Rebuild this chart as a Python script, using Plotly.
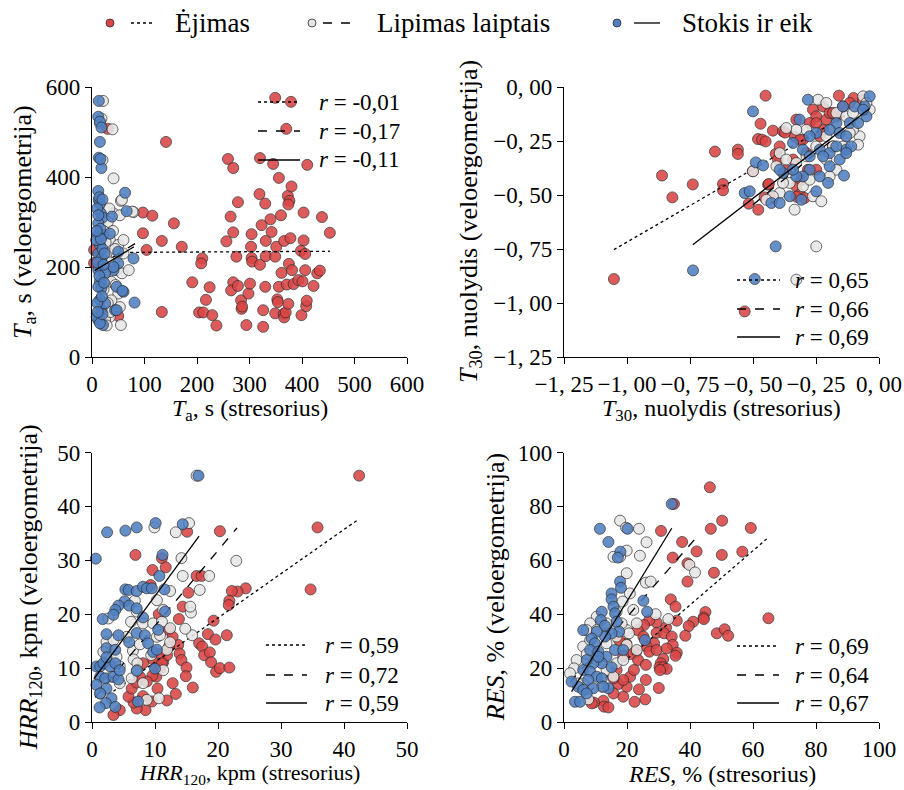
import plotly.graph_objects as go

W, H = 904, 790
FONT = "Liberation Serif, DejaVu Serif, serif"

SERIES = ["Ėjimas", "Lipimas laiptais", "Stokis ir eik"]
COLORS = ["#DA4545", "#E6E6E6", "#4F80C2"]
DASHES = ["dot", "dash", "solid"]

# ---------------- Panel 1: T_a, s ----------------
ta_walk = [
    (156, 297), (171, 245), (191, 166), (204, 99), (212, 99), (210, 219), (208, 208), (217, 127),
    (224, 155), (229, 93), (237, 70), (256, 257), (264, 312), (269, 277), (269, 166), (265, 148),
    (278, 158), (278, 344), (275, 223), (284, 126), (285, 107), (286, 112), (294, 71), (298, 141),
    (301, 163), (303, 245), (304, 220), (304, 273), (305, 212), (319, 362), (320, 205), (326, 104),
    (326, 67), (330, 156), (330, 341), (331, 258), (331, 224), (323, 293), (340, 306), (342, 278),
    (349, 223), (351, 245), (349, 97), (353, 128), (354, 122), (356, 156), (360, 315), (361, 187),
    (366, 258), (365, 96), (366, 88), (369, 99), (371, 161), (374, 118), (375, 207), (378, 264),
    (381, 193), (373, 358), (376, 347), (374, 339), (380, 379), (384, 162), (393, 171), (401, 168),
    (403, 321), (403, 259), (398, 236), (406, 229), (406, 193), (399, 93), (408, 113), (409, 125),
    (422, 158), (429, 186), (434, 192), (438, 311), (453, 276),
    (141, 478), (259, 440), (269, 420), (320, 442), (345, 429), (410, 427), (356, 398), (349, 576),
    (379, 567), (370, 507), (30, 507), (97, 321), (115, 314), (97, 275), (133, 258), (104, 238),
    (133, 100), (4, 238), (4, 209), (50, 91),
]
ta_stairs = [
    (21, 569), (18, 530), (39, 506), (20, 438), (41, 397), (55, 347), (41, 319), (53, 315),
    (79, 322), (34, 260), (50, 249), (31, 230), (47, 193), (28, 171), (37, 167), (57, 186),
    (50, 141), (37, 126), (53, 111), (34, 89), (55, 71), (25, 82), (47, 223), (70, 193),
    (60, 230), (77, 323), (57, 349), (30, 300), (25, 200), (22, 150), (30, 120), (40, 280),
    (26, 255), (35, 210), (20, 100), (44, 240), (28, 70), (33, 330), (60, 260), (45, 160),
    (22, 280), (35, 100), (15, 520),
]
ta_tug = [
    (13, 569), (12, 534), (15, 523), (18, 510), (15, 478), (13, 443), (18, 420), (16, 440),
    (12, 369), (13, 349), (15, 341), (63, 365), (17, 319), (66, 324), (10, 330), (14, 355),
    (20, 310), (12, 297), (12, 271), (15, 249), (12, 230), (18, 219), (12, 193), (15, 167),
    (18, 153), (15, 127), (18, 104), (12, 82), (21, 71), (9, 89), (50, 234), (79, 219),
    (47, 156), (60, 145), (81, 121), (44, 104), (25, 119), (21, 271), (34, 274), (50, 208),
    (41, 193), (12, 156), (25, 186), (15, 75), (38, 312), (58, 147), (47, 104), (41, 200),
    (10, 210), (20, 240), (8, 260), (16, 285), (22, 205), (10, 120), (20, 95), (14, 180),
    (19, 135), (11, 100), (23, 165), (17, 262), (9, 280), (20, 350), (12, 315), (24, 230),
]
ta_fit_x = [[4, 453], [10, 82], [5, 80]]
ta_fit_y = [[232, 235], [200, 252], [192, 245]]
ta_r = ["-0,01", "-0,17", "-0,11"]

# ---------------- Panel 2: T30, slope ----------------
t30_walk = [
    (-1.052, -0.889), (-0.861, -0.410), (-0.820, -0.511), (-0.739, -0.451), (-0.651, -0.299),
    (-0.560, -0.290), (-0.560, -0.310), (-0.619, -0.449), (-0.619, -0.478), (-0.517, -0.540),
    (-0.479, -0.568), (-0.501, -0.390), (-0.480, -0.241), (-0.464, -0.244), (-0.450, -0.252),
    (-0.470, -0.170), (-0.421, -0.202), (-0.450, -0.040), (-0.440, -0.452), (-0.454, -0.511),
    (-0.410, -0.310), (-0.401, -0.336), (-0.381, -0.205), (-0.328, -0.151), (-0.335, -0.228),
    (-0.302, -0.244), (-0.328, -0.460), (-0.315, -0.498), (-0.295, -0.514), (-0.308, -0.429),
    (-0.262, -0.105), (-0.249, -0.136), (-0.222, -0.090), (-0.209, -0.151), (-0.196, -0.120),
    (-0.159, -0.040), (-0.143, -0.090), (-0.101, -0.051), (-0.275, -0.167), (-0.235, -0.228),
    (-0.183, -0.275), (-0.288, -0.306), (-0.249, -0.383), (-0.282, -0.383), (-0.533, -1.039),
    (-0.341, -0.336), (-0.222, -0.198), (-0.116, -0.074), (-0.063, -0.059), (-0.368, -0.383),
    (-0.169, -0.136), (-0.394, -0.275), (-0.249, -0.167), (-0.373, -0.211), (-0.313, -0.245),
    (-0.183, -0.120), (-0.437, -0.449), (-0.327, -0.508), (-0.420, -0.514),
]
t30_stairs = [
    (-0.242, -0.059), (-0.063, -0.043), (-0.037, -0.105), (-0.077, -0.228), (-0.083, -0.267),
    (-0.103, -0.198), (-0.183, -0.275), (-0.143, -0.275), (-0.249, -0.275), (-0.288, -0.198),
    (-0.328, -0.198), (-0.368, -0.190), (-0.394, -0.306), (-0.368, -0.336), (-0.407, -0.367),
    (-0.354, -0.444), (-0.394, -0.491), (-0.421, -0.506), (-0.335, -0.568), (-0.262, -0.506),
    (-0.229, -0.529), (-0.249, -0.738), (-0.328, -0.352), (-0.288, -0.321), (-0.209, -0.336),
    (-0.169, -0.383), (-0.196, -0.414), (-0.116, -0.213), (-0.209, -0.228), (-0.169, -0.120),
    (-0.130, -0.136), (-0.209, -0.074), (-0.302, -0.460), (-0.381, -0.444), (-0.447, -0.522),
    (-0.500, -0.390), (-0.050, -0.074), (-0.275, -0.429), (-0.103, -0.120), (-0.328, -0.892),
]
t30_tug = [
    (-0.282, -0.059), (-0.500, -0.113), (-0.489, -0.349), (-0.460, -0.363), (-0.533, -0.491),
    (-0.513, -0.483), (-0.738, -0.849), (-0.410, -0.738), (-0.139, -0.410), (-0.037, -0.043),
    (-0.057, -0.090), (-0.097, -0.090), (-0.143, -0.090), (-0.116, -0.167), (-0.083, -0.167),
    (-0.050, -0.136), (-0.169, -0.167), (-0.196, -0.198), (-0.156, -0.213), (-0.130, -0.228),
    (-0.249, -0.213), (-0.275, -0.228), (-0.315, -0.151), (-0.341, -0.259), (-0.302, -0.290),
    (-0.275, -0.321), (-0.235, -0.290), (-0.196, -0.306), (-0.130, -0.290), (-0.110, -0.275),
    (-0.156, -0.336), (-0.130, -0.306), (-0.196, -0.367), (-0.235, -0.414), (-0.202, -0.444),
    (-0.275, -0.383), (-0.302, -0.414), (-0.328, -0.414), (-0.381, -0.398), (-0.394, -0.383),
    (-0.354, -0.506), (-0.308, -0.522), (-0.249, -0.483), (-0.427, -0.537), (-0.394, -0.537),
    (-0.341, -0.383), (-0.222, -0.321), (-0.169, -0.275), (-0.063, -0.105), (-0.493, -0.889),
]
t30_fit_x = [[-1.052, -0.063], [-0.50, -0.04], [-0.739, -0.037]]
t30_fit_y = [[-0.753, -0.085], [-0.545, -0.105], [-0.730, -0.100]]
t30_r = ["0,65", "0,66", "0,69"]

# ---------------- Panel 3: HRR120, bpm ----------------
hrr_walk = [
    (42.4, 45.7), (35.8, 36.1), (34.7, 24.6), (20.3, 35.4), (15.1, 35.3), (6.9, 31.0), (11.1, 30.4),
    (11.7, 28.7), (9.6, 28.2), (16.6, 27.1), (17.4, 27.1), (24.4, 24.8), (23.1, 24.2), (22.2, 24.3),
    (21.8, 22.5), (21.7, 21.7), (15.3, 24.0), (14.4, 21.4), (13.8, 19.1), (19.3, 18.8), (18.4, 16.3),
    (21.4, 16.1), (19.6, 15.3), (17.0, 14.6), (17.5, 14.0), (17.8, 12.4), (18.7, 12.9), (18.9, 11.1),
    (19.7, 9.3), (20.3, 10.0), (21.8, 10.1), (13.7, 14.3), (13.9, 12.7), (14.2, 11.5), (15.0, 10.1),
    (14.9, 8.5), (16.0, 6.4), (12.8, 7.2), (13.3, 5.2), (11.9, 4.0), (12.2, 13.9), (11.3, 11.1),
    (10.8, 9.8), (10.2, 8.4), (9.6, 8.6), (10.4, 6.2), (9.5, 3.8), (8.1, 4.8), (8.5, 2.2),
    (7.1, 2.5), (6.6, 3.6), (5.8, 4.7), (4.4, 2.2), (3.4, 1.3), (6.3, 6.2), (7.1, 7.3),
    (8.7, 7.5), (10.2, 10.3), (9.3, 25.4), (10.6, 20.0), (12.2, 17.1), (12.8, 15.8), (9.7, 11.6),
    (8.1, 10.9), (7.6, 8.4), (11.9, 12.4), (10.8, 12.7), (11.1, 10.9),
]
hrr_stairs = [
    (16.6, 45.7), (15.4, 36.9), (9.9, 36.1), (13.3, 35.2), (22.9, 29.9), (18.6, 27.1), (17.1, 24.5),
    (14.4, 27.1), (14.2, 30.4), (12.4, 24.3), (15.7, 20.3), (15.9, 16.1), (14.8, 17.3), (15.6, 21.4),
    (2.6, 19.2), (2.3, 14.8), (3.4, 15.2), (1.8, 13.0), (6.8, 22.5), (7.1, 20.5), (6.2, 18.6),
    (8.1, 18.3), (5.5, 15.8), (6.5, 13.2), (6.6, 11.6), (7.2, 10.9), (9.4, 12.4), (10.3, 15.8),
    (11.3, 20.8), (9.7, 18.3), (10.3, 22.6), (4.4, 10.3), (3.1, 8.4), (1.3, 5.3), (6.3, 8.1),
    (7.2, 9.6), (8.7, 4.1), (10.6, 4.4), (10.8, 16.1), (11.9, 13.4), (12.4, 14.8), (11.3, 9.6),
    (11.1, 18.6), (3.9, 12.1), (7.6, 14.4), (8.1, 7.2), (4.4, 7.2), (12.4, 17.4),
]
hrr_tug = [
    (16.9, 45.7), (0.6, 30.3), (2.4, 35.2), (5.3, 35.5), (7.1, 36.1), (10.1, 36.9), (14.4, 36.7),
    (11.2, 31.0), (10.7, 27.1), (11.5, 24.6), (5.3, 24.6), (5.8, 24.5), (7.1, 24.3), (8.1, 25.1),
    (8.7, 24.8), (9.5, 24.8), (5.2, 22.4), (5.9, 21.6), (4.2, 21.6), (3.7, 20.8), (3.4, 19.9),
    (1.7, 19.1), (2.3, 16.3), (4.2, 16.1), (7.1, 16.5), (5.9, 14.8), (8.4, 16.1), (8.9, 14.6),
    (9.7, 13.0), (10.5, 17.1), (11.6, 20.5), (8.1, 19.4), (7.1, 21.1), (2.3, 13.7), (3.7, 13.4),
    (0.7, 10.3), (1.3, 10.3), (1.8, 10.9), (2.9, 10.3), (3.7, 10.9), (1.3, 8.4), (2.1, 8.1),
    (3.4, 8.4), (2.3, 6.2), (0.7, 6.9), (1.3, 5.3), (3.1, 4.4), (2.2, 3.5), (1.2, 2.7),
    (3.7, 2.8), (7.1, 9.5), (7.3, 3.8), (10.0, 9.9), (10.3, 13.4), (4.2, 7.9), (4.4, 9.6),
    (2.3, 12.0),
]
hrr_fit_x = [[3.4, 42.3], [0.5, 23.0], [0.3, 17.0]]
hrr_fit_y = [[5.7, 37.6], [4.6, 36.0], [8.0, 34.5]]
hrr_r = ["0,59", "0,72", "0,59"]

# ---------------- Panel 4: RES, % ----------------
res_walk = [
    (46.3, 87.1), (34.9, 80.9), (50.2, 74.7), (46.6, 71.7), (59.3, 72.0), (30.8, 70.9), (37.5, 66.8),
    (42.1, 63.3), (56.6, 63.2), (50.1, 62.0), (34.5, 61.0), (39.2, 58.9), (39.2, 52.1), (47.6, 55.4),
    (64.9, 38.5), (33.9, 45.5), (35.4, 42.8), (44.9, 40.8), (44.3, 38.8), (44.4, 38.2), (41.0, 37.2),
    (39.6, 35.6), (48.5, 32.9), (51.0, 34.4), (52.1, 32.0), (38.5, 32.0), (35.8, 37.6), (32.4, 35.1),
    (29.4, 36.9), (27.1, 37.8), (25.4, 36.0), (23.4, 34.1), (29.4, 33.1), (31.8, 32.9), (34.2, 31.7),
    (34.5, 28.6), (35.8, 25.7), (35.4, 24.6), (31.5, 23.4), (30.7, 21.8), (30.3, 20.3), (31.5, 20.3),
    (32.6, 19.7), (30.5, 19.3), (28.6, 29.2), (26.2, 28.0), (27.1, 26.1), (25.2, 31.7), (22.9, 26.1),
    (23.5, 23.0), (21.0, 25.2), (18.8, 24.5), (19.7, 29.2), (17.5, 30.4), (26.0, 21.2), (26.0, 15.6),
    (23.8, 12.1), (30.1, 12.6), (25.8, 8.4), (22.4, 7.5), (18.8, 9.4), (19.9, 13.1), (17.2, 14.1),
    (15.7, 10.6), (12.5, 7.9), (12.7, 5.7), (14.1, 5.4), (9.5, 7.2), (8.8, 6.9), (21.0, 16.8),
    (18.8, 15.6), (15.7, 16.2), (16.7, 19.3), (22.2, 19.3), (29.4, 26.7), (32.6, 27.3),
]
res_stairs = [
    (17.8, 74.7), (19.7, 72.1), (23.8, 71.7), (19.9, 63.6), (15.7, 61.3), (17.8, 61.3), (24.1, 61.7),
    (26.2, 66.7), (19.9, 55.2), (26.0, 51.7), (27.5, 52.1), (39.8, 58.3), (41.6, 55.5), (20.9, 47.7),
    (18.6, 44.7), (22.0, 41.6), (29.1, 40.0), (33.1, 38.2), (23.1, 36.6), (20.0, 34.1), (20.6, 32.9),
    (16.7, 40.9), (10.4, 39.1), (8.3, 36.6), (10.4, 34.1), (6.1, 28.0), (7.2, 25.2), (4.0, 23.0),
    (3.2, 19.9), (1.9, 18.1), (7.7, 8.4), (13.5, 19.3), (15.7, 16.8), (16.7, 21.8), (18.8, 23.0),
    (19.9, 28.6), (23.1, 26.7), (13.5, 29.2), (14.6, 34.1), (16.7, 31.7), (7.2, 34.1), (8.3, 30.4),
    (13.5, 36.6), (18.3, 36.6), (10.4, 23.0), (6.1, 14.3), (12.0, 13.1), (4.3, 14.3),
]
res_tug = [
    (34.2, 80.9), (11.4, 71.7), (20.2, 71.7), (14.1, 66.8), (17.9, 63.2), (17.1, 61.0), (17.8, 52.1),
    (18.1, 49.8), (15.1, 47.7), (15.1, 45.5), (25.2, 45.0), (26.4, 40.9), (25.7, 30.4), (12.0, 40.9),
    (11.7, 37.8), (13.0, 35.7), (15.7, 42.8), (16.2, 40.3), (16.7, 37.2), (17.5, 33.5), (15.1, 32.9),
    (13.0, 31.7), (10.4, 33.5), (8.8, 31.0), (6.1, 34.1), (9.8, 29.2), (8.3, 26.7), (10.9, 26.1),
    (13.5, 24.2), (16.2, 26.7), (18.8, 26.7), (12.0, 21.8), (15.1, 20.3), (9.3, 21.8), (6.1, 19.3),
    (8.3, 18.7), (10.4, 16.8), (12.0, 16.2), (14.1, 12.5), (7.7, 15.6), (4.5, 13.1), (6.1, 11.9),
    (9.3, 12.5), (2.4, 15.0), (3.5, 7.5), (5.1, 7.5), (7.2, 10.6), (12.5, 13.1), (10.9, 24.2),
    (7.2, 23.0),
]
res_fit_x = [[8.8, 64.9], [1.9, 41.6], [2.4, 34.2]]
res_fit_y = [[12.0, 68.5], [14.7, 67.9], [11.3, 71.9]]
res_r = ["0,69", "0,64", "0,67"]

# Axis ticks
ta_ticks = [0, 100, 200, 300, 400, 500, 600]
ta_yticks = [0, 200, 400, 600]
t30_ticks = [-1.25, -1.0, -0.75, -0.5, -0.25, 0.0]
t30_ticktext = ["\u22121, 25", "\u22121, 00", "\u22120, 75", "\u22120, 50", "\u22120, 25", "0, 00"]
hrr_ticks = [0, 10, 20, 30, 40, 50]
res_ticks = [0, 20, 40, 60, 80, 100]


def px(x):
    return x / W


def py(y):
    return 1 - y / H


# Plot-area rectangles in pixels (left, right, top, bottom)
LEFT = (92, 407)
RIGHT = (564, 879)
TOP = (87, 357)
BOTTOM = (452.5, 722)

panels = [
    dict(data=[ta_walk, ta_stairs, ta_tug], fx=ta_fit_x, fy=ta_fit_y, r=ta_r,
         xs=LEFT, ys=TOP, xr=[0, 600], yr=[0, 600],
         xt=dict(tickvals=ta_ticks, ticktext=[str(v) for v in ta_ticks]),
         yt=dict(tickvals=ta_yticks, ticktext=[str(v) for v in ta_yticks]),
         xtitle="<i>T</i><sub>a</sub>, s (stresorius)", xty=427, xts=24,
         ytitle="<i>T</i><sub>a</sub>, s (veloergometrija)", ytx=24,
         leg=dict(l0=258, l1=300, tx=317, rows=[102, 131, 160])),
    dict(data=[t30_walk, t30_stairs, t30_tug], fx=t30_fit_x, fy=t30_fit_y, r=t30_r,
         xs=RIGHT, ys=TOP, xr=[-1.25, 0], yr=[-1.25, 0],
         xt=dict(tickvals=t30_ticks, ticktext=t30_ticktext),
         yt=dict(tickvals=t30_ticks, ticktext=t30_ticktext),
         xtitle="<i>T</i><sub>30</sub>, nuolydis (stresorius)", xty=427, xts=24,
         ytitle="<i>T</i><sub>30</sub>, nuolydis (veloergometrija)", ytx=470,
         leg=dict(l0=737, l1=780, tx=793, rows=[280, 309, 337])),
    dict(data=[hrr_walk, hrr_stairs, hrr_tug], fx=hrr_fit_x, fy=hrr_fit_y, r=hrr_r,
         xs=LEFT, ys=BOTTOM, xr=[0, 50], yr=[0, 50],
         xt=dict(tickvals=hrr_ticks, ticktext=[str(v) for v in hrr_ticks]),
         yt=dict(tickvals=hrr_ticks, ticktext=[str(v) for v in hrr_ticks]),
         xtitle="<i>HRR</i><sub>120</sub>, kpm (stresorius)", xty=790, xts=22,
         ytitle="<i>HRR</i><sub>120</sub>, kpm (veloergometrija)", ytx=30,
         leg=dict(l0=266, l1=307, tx=323, rows=[645, 675, 703])),
    dict(data=[res_walk, res_stairs, res_tug], fx=res_fit_x, fy=res_fit_y, r=res_r,
         xs=RIGHT, ys=BOTTOM, xr=[0, 100], yr=[0, 100],
         xt=dict(tickvals=res_ticks, ticktext=[str(v) for v in res_ticks]),
         yt=dict(tickvals=res_ticks, ticktext=[str(v) for v in res_ticks]),
         xtitle="<i>RES</i>, % (stresorius)", xty=789, xts=24,
         ytitle="<i>RES</i>, % (veloergometrija)", ytx=495,
         leg=dict(l0=737, l1=779, tx=793, rows=[646, 675, 703])),
]

fig = go.Figure()
shapes = []
annotations = []
layout = dict()

for i, p in enumerate(panels, start=1):
    xa = "x" if i == 1 else f"x{i}"
    ya = "y" if i == 1 else f"y{i}"
    for k in range(3):
        xs_, ys_ = zip(*p["data"][k])
        fig.add_trace(go.Scatter(
            x=list(xs_), y=list(ys_), mode="markers", xaxis=xa, yaxis=ya,
            showlegend=False, cliponaxis=False, name=SERIES[k],
            marker=dict(size=11, color=COLORS[k], opacity=0.88,
                        line=dict(color="#2b2b2b", width=0.8)),
        ))
        fig.add_trace(go.Scatter(
            x=p["fx"][k], y=p["fy"][k], mode="lines", xaxis=xa, yaxis=ya,
            showlegend=False, cliponaxis=False, name=SERIES[k],
            line=dict(color="black", width=1.3, dash=DASHES[k]),
        ))

    axis_common = dict(
        showline=True, linecolor="black", linewidth=1.3, mirror=False,
        ticks="outside", ticklen=6, tickwidth=1.3, tickcolor="black",
        showgrid=False, zeroline=False, tickmode="array", automargin=False,
        tickangle=0, tickfont=dict(family=FONT, size=23, color="black"),
    )
    layout["xaxis" if i == 1 else f"xaxis{i}"] = dict(
        axis_common, domain=[px(p["xs"][0]), px(p["xs"][1])], range=p["xr"],
        anchor=ya, **p["xt"])
    layout["yaxis" if i == 1 else f"yaxis{i}"] = dict(
        axis_common, domain=[py(p["ys"][1]), py(p["ys"][0])], range=p["yr"],
        anchor=xa, **p["yt"])

    # axis titles (x titles anchored by their bottom edge)
    xc = (p["xs"][0] + p["xs"][1]) / 2
    yc = (p["ys"][0] + p["ys"][1]) / 2
    annotations.append(dict(
        x=px(xc), y=py(p["xty"]), xref="paper", yref="paper",
        text=p["xtitle"], showarrow=False, xanchor="center", yanchor="bottom",
        font=dict(family=FONT, size=p["xts"], color="black")))
    annotations.append(dict(
        x=px(p["ytx"]), y=py(yc), xref="paper", yref="paper", textangle=-90,
        text=p["ytitle"], showarrow=False, xanchor="center", yanchor="middle",
        font=dict(family=FONT, size=26, color="black")))

    # correlation key inside the panel
    lg = p["leg"]
    for k in range(3):
        yrow = lg["rows"][k]
        shapes.append(dict(
            type="line", xref="paper", yref="paper",
            x0=px(lg["l0"]), x1=px(lg["l1"]), y0=py(yrow), y1=py(yrow),
            line=dict(color="black", width=1.3, dash=DASHES[k])))
        annotations.append(dict(
            x=px(lg["tx"]), y=py(yrow), xref="paper", yref="paper",
            text=f"<i>r</i> = {p['r'][k]}", showarrow=False,
            xanchor="left", yanchor="middle",
            font=dict(family=FONT, size=23, color="black")))

# figure-level key across the top
top_key = [(110, 131, 152, 173), (312, 323, 353, 375), (617, 634, 660, 680)]
for k, (mx, l0, l1, tx) in enumerate(top_key):
    ky = 23
    shapes.append(dict(
        type="circle", xref="paper", yref="paper", xsizemode="pixel", ysizemode="pixel",
        xanchor=px(mx), yanchor=py(ky), x0=-4, x1=4, y0=-4, y1=4,
        fillcolor=COLORS[k], line=dict(color="#2b2b2b", width=0.8)))
    shapes.append(dict(
        type="line", xref="paper", yref="paper",
        x0=px(l0), x1=px(l1), y0=py(ky), y1=py(ky),
        line=dict(color="black", width=1.3, dash=DASHES[k])))
    annotations.append(dict(
        x=px(tx), y=py(ky), xref="paper", yref="paper", text=SERIES[k],
        showarrow=False, xanchor="left", yanchor="middle",
        font=dict(family=FONT, size=27, color="black")))

fig.update_layout(
    width=W, height=H, margin=dict(l=0, r=0, t=0, b=0, autoexpand=False),
    paper_bgcolor="white", plot_bgcolor="white",
    font=dict(family=FONT, size=23, color="black"),
    shapes=shapes, annotations=annotations, showlegend=False,
    **layout,
)

fig.write_html("out.html")
